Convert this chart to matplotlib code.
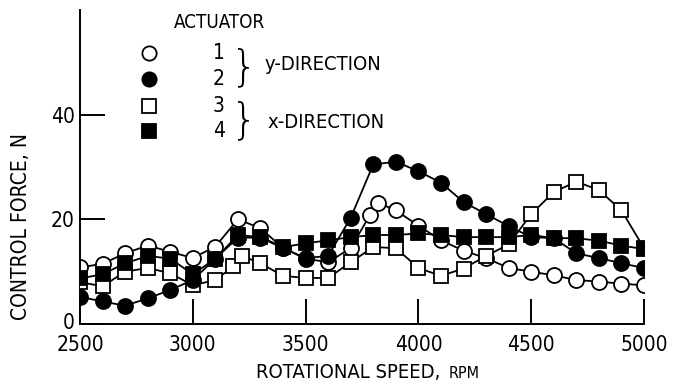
import matplotlib
matplotlib.use("Agg")
import matplotlib.pyplot as plt
from matplotlib import font_manager
from matplotlib.transforms import ScaledTranslation

# pick a narrow font if one is installed, otherwise DejaVu Sans
_narrow = [f for f in font_manager.fontManager.ttflist
           if ('Narrow' in f.name or 'Condensed' in f.fname) and f.weight in (400, 'normal')
           and f.style == 'normal']
if _narrow:
    FP_KW = dict(fname=_narrow[0].fname)
    K = 1.0
else:
    FP_KW = dict(family='DejaVu Sans')
    K = 0.88


def fp(size):
    return font_manager.FontProperties(size=size * K, **FP_KW)


# ---------------- data ----------------
x1 = [2500, 2600, 2700, 2800, 2900, 3000, 3100, 3200, 3300, 3400, 3500, 3600, 3700,
      3785, 3820, 3900, 4000, 4100, 4200, 4300, 4400, 4500, 4600, 4700, 4800, 4900, 5000]
y1 = [10.8, 11.5, 13.5, 15.0, 13.8, 12.6, 14.8, 20.0, 18.3, 14.5, 12.5, 11.8, 14.5,
      20.8, 23.2, 21.7, 18.8, 16.0, 14.0, 12.6, 10.7, 10.0, 9.3, 8.4, 8.1, 7.7, 7.4]

x2 = [2500, 2600, 2700, 2800, 2900, 3000, 3100, 3200, 3300, 3400, 3500, 3600, 3700,
      3800, 3900, 4000, 4100, 4200, 4300, 4400, 4500, 4600, 4700, 4800, 4900, 5000]
y2 = [5.2, 4.3, 3.5, 4.9, 6.5, 8.4, 12.5, 16.5, 16.5, 14.5, 12.6, 13.0, 20.3,
      30.5, 31.0, 29.2, 27.0, 23.3, 21.0, 18.7, 16.6, 16.4, 13.5, 12.6, 11.6, 10.7]

x3 = [2500, 2600, 2700, 2800, 2900, 3000, 3100, 3180, 3220, 3300, 3400, 3500, 3600, 3700,
      3800, 3900, 4000, 4100, 4200, 4300, 4400, 4500, 4600, 4700, 4800, 4900, 5000]
y3 = [8.0, 7.2, 10.0, 10.7, 9.7, 7.4, 8.4, 11.0, 13.0, 11.6, 9.2, 8.8, 8.8, 11.8,
      14.7, 14.5, 10.7, 9.2, 10.6, 13.0, 15.2, 21.0, 25.2, 27.2, 25.6, 21.7, 14.5]

x4 = [2500, 2600, 2700, 2800, 2900, 3000, 3100, 3200, 3300, 3400, 3500, 3600, 3700,
      3800, 3900, 4000, 4100, 4200, 4300, 4400, 4500, 4600, 4700, 4800, 4900, 5000]
y4 = [8.7, 9.5, 11.6, 13.0, 12.5, 9.5, 12.5, 17.0, 16.6, 14.7, 15.4, 16.0, 16.6,
      17.0, 17.0, 17.3, 17.0, 16.6, 16.6, 16.6, 17.0, 16.4, 16.4, 15.9, 15.0, 14.3]

x_ticks = [2500, 3000, 3500, 4000, 4500, 5000]
y_ticks = [0, 20, 40]
actuator_labels = ['1', '2', '3', '4']

# ---------------- figure ----------------
W, H = 680, 383
fig = plt.figure(figsize=(W / 100, H / 100), dpi=100)
ax = fig.add_axes([80 / W, 1 - 324 / H, (644 - 80) / W, (324 - 10) / H])
ax.set_xlim(2500, 5000)
ax.set_ylim(0, 60)

ms = 10.8
mew = 1.3
lw = 1.3
ax.plot(x1, y1, '-o', color='black', lw=lw, ms=ms, mfc='white', mec='black', mew=mew, zorder=2)
ax.plot(x3, y3, '-s', color='black', lw=lw, ms=ms * 0.95, mfc='white', mec='black', mew=mew, zorder=3)
ax.plot(x2, y2, '-o', color='black', lw=lw, ms=ms, mfc='black', mec='black', mew=mew, zorder=4)
ax.plot(x4, y4, '-s', color='black', lw=lw, ms=ms * 0.95, mfc='black', mec='black', mew=mew, zorder=5)

for s in ['top', 'right']:
    ax.spines[s].set_visible(False)
for s in ['left', 'bottom']:
    ax.spines[s].set_linewidth(1.4)

ax.set_xticks(x_ticks)
ax.set_yticks(y_ticks)
ax.tick_params(axis='both', direction='in', length=18, width=1.4)
ax.tick_params(axis='x', pad=8)
ax.tick_params(axis='y', pad=4)
for lab in ax.get_xticklabels() + ax.get_yticklabels():
    lab.set_fontproperties(fp(15))
# lift the "0" label a little, as in the original
zero = ax.yaxis.get_major_ticks()[0].label1
zero.set_transform(zero.get_transform() + ScaledTranslation(0, 3 / 100, fig.dpi_scale_trans))

# axis labels
fig.text(21 / W, 1 - 226 / H, 'CONTROL FORCE, N', rotation=90, ha='center', va='center',
         fontproperties=fp(15))
t1 = fig.text(256 / W, 1 - 372 / H, 'ROTATIONAL SPEED, ', ha='left', va='center',
              fontproperties=fp(14.5))
fig.canvas.draw()
bb = t1.get_window_extent()
fig.text((bb.x1 + 2) / W, 1 - 373 / H, 'RPM', ha='left', va='center', fontproperties=fp(11.5))

# legend (drawn manually)
fig.text(220 / W, 1 - 22 / H, 'ACTUATOR', ha='center', va='center', fontproperties=fp(13.5))
leg_y = [53, 79, 106, 131]
leg_m = [('o', 'white'), ('o', 'black'), ('s', 'white'), ('s', 'black')]
for (m, fc), py, lab in zip(leg_m, leg_y, actuator_labels):
    fig.lines.append(plt.Line2D([149 / W], [1 - py / H], marker=m, ms=ms * 0.95, mfc=fc,
                                mec='black', mew=mew, ls='none', transform=fig.transFigure))
    fig.text(219 / W, 1 - py / H, lab, ha='center', va='center', fontproperties=fp(15))

brace = font_manager.FontProperties(family='DejaVu Sans', weight='light', size=30)
fig.text(244 / W, 1 - 68 / H, '}', ha='center', va='center', fontproperties=brace)
fig.text(244 / W, 1 - 121 / H, '}', ha='center', va='center', fontproperties=brace)
fig.text(265 / W, 1 - 65 / H, 'y-DIRECTION', ha='left', va='center', fontproperties=fp(14.5))
fig.text(267 / W, 1 - 123 / H, 'x-DIRECTION', ha='left', va='center', fontproperties=fp(14.5))

fig.savefig('out.png', dpi=100)
